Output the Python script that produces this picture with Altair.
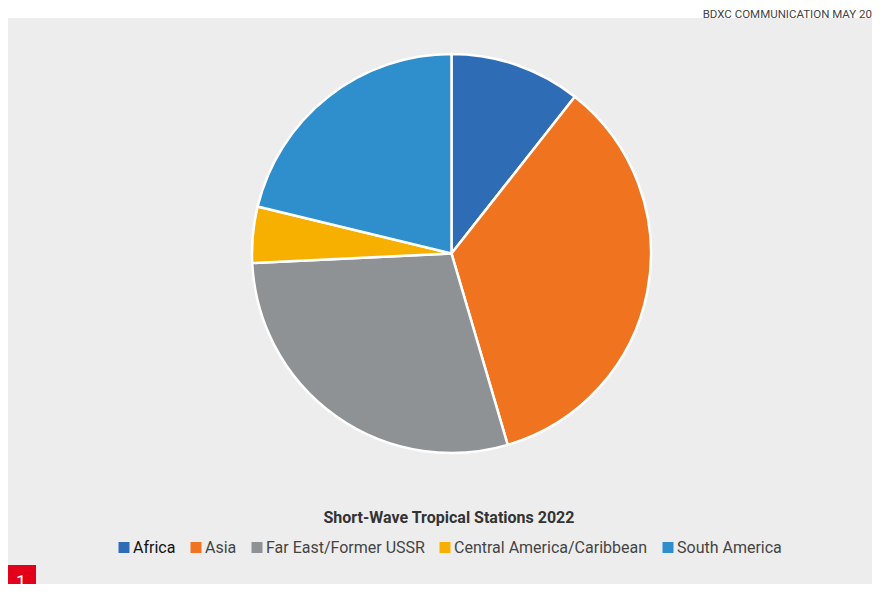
import altair as alt
import pandas as pd

# ---- data ----
regions = ["Africa", "Asia", "Far East/Former USSR", "Central America/Caribbean", "South America"]
stations = [7, 23, 19, 3, 14]
colors = ["#2e6db5", "#f07420", "#8f9295", "#f8b000", "#2f8fcc"]
chart_title = "Short-Wave Tropical Stations 2022"
header_text = "BDXC COMMUNICATION MAY 20"
badge_text = "1"

W, H = 864, 576

df = pd.DataFrame({"region": regions, "stations": stations, "idx": list(range(len(regions)))})

# grey panel
panel = alt.Chart(pd.DataFrame({"k": [0]})).mark_rect(color="#ededed").encode(
    x=alt.value(0), x2=alt.value(W), y=alt.value(10), y2=alt.value(H)
)

pie = alt.Chart(df).mark_arc(outerRadius=199.5, stroke="white", strokeWidth=2.5).encode(
    theta=alt.Theta("stations:Q", stack=True),
    order=alt.Order("idx:Q"),
    color=alt.Color(
        "region:N",
        scale=alt.Scale(domain=regions, range=colors),
        sort=regions,
        legend=alt.Legend(
            orient="none",
            legendX=108,
            legendY=501.5,
            direction="horizontal",
            title=chart_title,
            titleOrient="top",
            titleAnchor="middle",
            titleFont="Roboto",
            titleFontSize=16,
            titleFontWeight="bold",
            titleColor="#333333",
            titlePadding=14,
            titleLimit=800,
            labelFont="Roboto",
            labelFontSize=16,
            labelColor={"expr": "datum.label === 'Africa' ? '#111111' : '#444444'"},
            labelOffset=1,
            labelLimit=400,
            symbolType="square",
            symbolSize=121,
            symbolStrokeWidth=0,
            columnPadding=12,
            padding=0,
        ),
    ),
    x=alt.value(443.5),
    y=alt.value(245.5),
)

header = alt.Chart(pd.DataFrame({"t": [header_text]})).mark_text(
    align="right", baseline="alphabetic", font="Roboto", fontSize=11.5, color="#444444"
).encode(x=alt.value(W), y=alt.value(9.5), text="t:N")

badge = alt.Chart(pd.DataFrame({"k": [0]})).mark_rect(color="#e2001a").encode(
    x=alt.value(0), x2=alt.value(28), y=alt.value(557), y2=alt.value(H)
)
badge_label = alt.Chart(pd.DataFrame({"t": [badge_text]})).mark_text(
    align="center", baseline="alphabetic", font="Roboto", fontSize=18, color="white"
).encode(x=alt.value(13), y=alt.value(580), text="t:N")

chart = alt.layer(panel, pie, header, badge, badge_label).properties(
    width=W, height=H, padding=0, autosize=alt.AutoSizeParams(type="none"), background="white"
).configure_view(stroke=None)

chart.save("out.html", embed_options={"renderer": "svg", "actions": False})
